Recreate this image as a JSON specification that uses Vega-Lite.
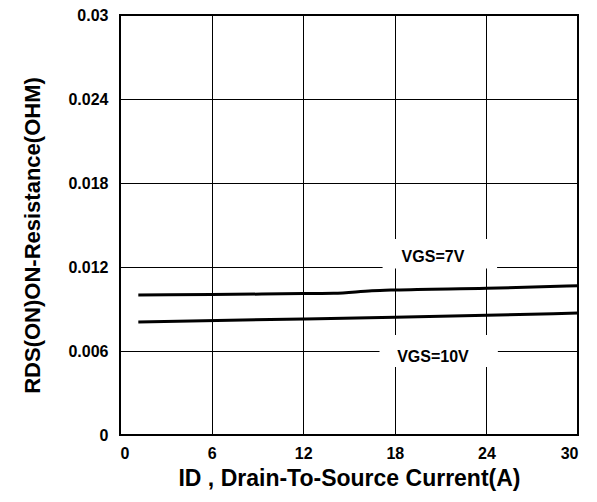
{
  "$schema": "https://vega.github.io/schema/vega-lite/v6.json",
  "width": 458,
  "height": 420,
  "autosize": "none",
  "padding": {"left": 120, "top": 15, "right": 19, "bottom": 67},
  "background": "white",
  "config": {
    "view": {"stroke": "black", "strokeWidth": 2},
    "font": "Liberation Sans",
    "axis": {
      "grid": true, "gridColor": "black", "gridOpacity": 1, "gridWidth": 1,
      "domain": false, "ticks": false,
      "labelFont": "Liberation Sans", "labelFontWeight": "bold", "labelFontSize": 16, "labelColor": "black",
      "titleFont": "Liberation Sans", "titleFontWeight": "bold", "titleColor": "black"
    }
  },
  "datasets": {
    "curves": [
      {"vgs": "7V", "id": 1.2, "r": 0.0100},
      {"vgs": "7V", "id": 6, "r": 0.01003},
      {"vgs": "7V", "id": 12, "r": 0.0101},
      {"vgs": "7V", "id": 14, "r": 0.01012},
      {"vgs": "7V", "id": 16.5, "r": 0.0103},
      {"vgs": "7V", "id": 18, "r": 0.01036},
      {"vgs": "7V", "id": 24, "r": 0.01048},
      {"vgs": "7V", "id": 30, "r": 0.01066},
      {"vgs": "10V", "id": 1.2, "r": 0.00807},
      {"vgs": "10V", "id": 12, "r": 0.00829},
      {"vgs": "10V", "id": 18, "r": 0.00841},
      {"vgs": "10V", "id": 24, "r": 0.00855},
      {"vgs": "10V", "id": 30, "r": 0.00871}
    ],
    "boxes": [
      {"x1": 17.2, "x2": 24.7, "y1": 0.0119, "y2": 0.0140},
      {"x1": 17.0, "x2": 24.75, "y1": 0.00486, "y2": 0.00714}
    ],
    "labels": [
      {"id": 20.5, "r": 0.01271, "text": "VGS=7V"},
      {"id": 20.5, "r": 0.00557, "text": "VGS=10V"}
    ]
  },
  "layer": [
    {
      "data": {"name": "curves"},
      "mark": {"type": "line", "color": "black", "strokeWidth": 3, "interpolate": "monotone"},
      "encoding": {
        "x": {
          "field": "id", "type": "quantitative",
          "scale": {"domain": [0, 30], "nice": false},
          "axis": {"values": [0, 6, 12, 18, 24, 30], "labelPadding": 10,
                   "title": "ID , Drain-To-Source Current(A)", "titleFontSize": 23, "titlePadding": 6}
        },
        "y": {
          "field": "r", "type": "quantitative",
          "scale": {"domain": [0, 0.03], "nice": false},
          "axis": {"values": [0, 0.006, 0.012, 0.018, 0.024, 0.03], "format": "~g", "labelPadding": 12,
                   "title": "RDS(ON)ON-Resistance(OHM)", "titleFontSize": 22, "titlePadding": 23, "titleY": 220}
        },
        "detail": {"field": "vgs"}
      }
    },
    {
      "data": {"name": "boxes"},
      "mark": {"type": "rect", "fill": "white", "stroke": null},
      "encoding": {
        "x": {"field": "x1", "type": "quantitative"},
        "x2": {"field": "x2"},
        "y": {"field": "y1", "type": "quantitative"},
        "y2": {"field": "y2"}
      }
    },
    {
      "data": {"name": "labels"},
      "mark": {"type": "text", "font": "Liberation Sans", "fontWeight": "bold", "fontSize": 16, "color": "black", "align": "center", "baseline": "middle"},
      "encoding": {
        "x": {"field": "id", "type": "quantitative"},
        "y": {"field": "r", "type": "quantitative"},
        "text": {"field": "text"}
      }
    }
  ]
}
